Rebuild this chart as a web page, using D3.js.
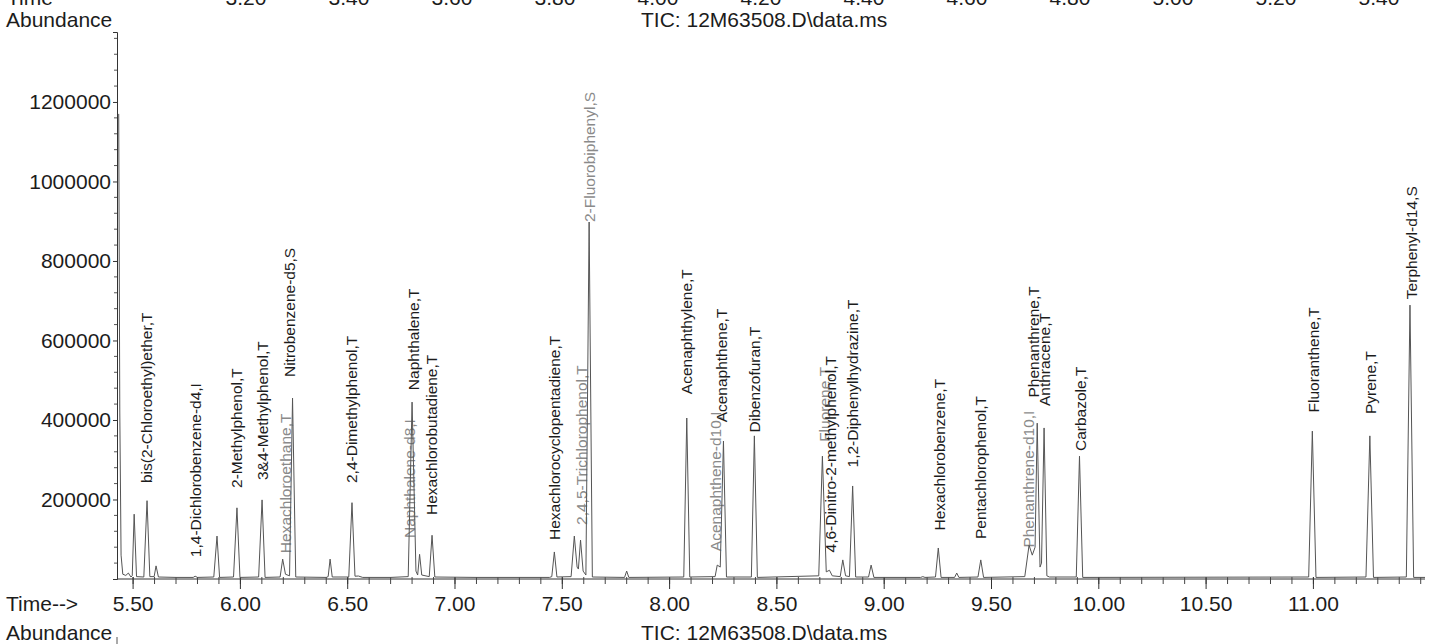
<!DOCTYPE html>
<html>
<head>
<meta charset="utf-8">
<script src="https://cdn.jsdelivr.net/npm/d3@7"></script>
<style>
  html, body { margin: 0; padding: 0; background: #fff; }
  svg { display: block; }
  text { font-family: "Liberation Sans", Arial, sans-serif; fill: #1c1c1c; }
</style>
</head>
<body>
<svg id="chart" width="1429" height="644"></svg>
<script>
// Total ion chromatogram, file 12M63508.D\data.ms
const fileTitle = "TIC: 12M63508.D\\data.ms";

// x axis tick labels (retention time, min)
const timeTicks = [5.5, 6.0, 6.5, 7.0, 7.5, 8.0, 8.5, 9.0, 9.5, 10.0, 10.5, 11.0];
// y axis tick labels (abundance)
const abundanceTicks = [200000, 400000, 600000, 800000, 1000000, 1200000];
// tick labels of the preceding panel, cut by the page edge
const prevPanelTicks = ["3.20", "3.40", "3.60", "3.80", "4.00", "4.20", "4.40", "4.60", "4.80", "5.00", "5.20", "5.40"];

// detector trace: [retention time, abundance]
const trace = [
  [5.433, 1170000], [5.438, 420000], [5.444, 60000], [5.452, 12000], [5.466, 9000],
  [5.478, 15000], [5.490, 5000],
  [5.496, 8000], [5.505, 163000], [5.516, 6000],
  [5.550, 5000], [5.565, 197000], [5.578, 6000],
  [5.598, 6000], [5.607, 33000], [5.618, 5000],
  [5.700, 4000], [5.780, 4000], [5.789, 7000], [5.800, 4000],
  [5.876, 5000], [5.891, 108000], [5.903, 4000],
  [5.968, 5000], [5.984, 179000], [5.998, 4000],
  [6.085, 5000], [6.101, 199000], [6.115, 4000],
  [6.185, 5000], [6.197, 50000], [6.210, 12000],
  [6.229, 8000], [6.243, 455000], [6.258, 5000],
  [6.400, 4000], [6.409, 6000], [6.418, 50000], [6.428, 5000],
  [6.505, 5000], [6.520, 192000], [6.534, 7000], [6.550, 7500], [6.570, 4000],
  [6.700, 4000], [6.782, 6000], [6.800, 445000], [6.818, 20000], [6.826, 10000], [6.835, 62000], [6.845, 10000],
  [6.880, 6000], [6.893, 110000], [6.906, 5000],
  [7.100, 4000], [7.440, 4000], [7.451, 6000], [7.463, 68000], [7.475, 5000],
  [7.541, 6000], [7.556, 108000], [7.569, 30000], [7.575, 25000], [7.585, 98000], [7.597, 20000], [7.610, 10000],
  [7.625, 898000], [7.640, 5000],
  [7.790, 4000], [7.800, 20000], [7.810, 4000],
  [8.066, 5000], [8.080, 405000], [8.094, 5000],
  [8.212, 6000], [8.222, 35000], [8.236, 30000], [8.251, 347000], [8.265, 5000],
  [8.381, 5000], [8.395, 360000], [8.409, 4000],
  [8.695, 8000], [8.712, 309000], [8.730, 18000], [8.745, 22000], [8.758, 8000],
  [8.795, 6000], [8.807, 48000], [8.820, 8000],
  [8.838, 6000], [8.853, 234000], [8.867, 5000],
  [8.927, 5000], [8.939, 35000], [8.952, 4000],
  [9.170, 4000], [9.180, 6000], [9.190, 4000],
  [9.239, 5000], [9.252, 78000], [9.265, 4000],
  [9.328, 4000], [9.338, 15000], [9.348, 4000],
  [9.437, 5000], [9.450, 48000], [9.463, 4000],
  [9.655, 6000], [9.675, 85000], [9.690, 60000], [9.703, 80000], [9.713, 392000], [9.726, 30000],
  [9.733, 40000], [9.745, 380000], [9.758, 8000], [9.770, 5000],
  [9.895, 5000], [9.910, 309000], [9.925, 4000],
  [10.978, 5000], [10.995, 372000], [11.012, 4000],
  [11.245, 5000], [11.263, 360000], [11.280, 4000],
  [11.433, 5000], [11.450, 689000], [11.467, 4000], [11.520, 4000]
];

// peak annotations: compound, retention time, abundance at the foot of the label
const peakNames = [
  "bis(2-Chloroethyl)ether,T", "1,4-Dichlorobenzene-d4,I", "2-Methylphenol,T", "3&4-Methylphenol,T",
  "Hexachloroethane,T", "Nitrobenzene-d5,S", "2,4-Dimethylphenol,T", "Naphthalene-d8,I",
  "Naphthalene,T", "Hexachlorobutadiene,T", "Hexachlorocyclopentadiene,T", "2,4,5-Trichlorophenol,T",
  "2-Fluorobiphenyl,S", "Acenaphthylene,T", "Acenaphthene-d10,I", "Acenaphthene,T",
  "Dibenzofuran,T", "Fluorene,T", "4,6-Dinitro-2-methylphenol,T", "1,2-Diphenylhydrazine,T",
  "Hexachlorobenzene,T", "Pentachlorophenol,T", "Phenanthrene-d10,I", "Phenanthrene,T",
  "Anthracene,T", "Carbazole,T", "Fluoranthene,T", "Pyrene,T", "Terphenyl-d14,S"
];
const peakTimes = [
  5.565, 5.789, 5.984, 6.101,
  6.210, 6.228, 6.520, 6.790,
  6.806, 6.892, 7.466, 7.592,
  7.625, 8.077, 8.212, 8.243,
  8.395, 8.720, 8.751, 8.854,
  9.257, 9.450, 9.672, 9.695,
  9.745, 9.913, 11.000, 11.265, 11.458
];
const labelAbundance = [
  241500, 55000, 229000, 249000,
  65000, 508000, 241500, 103000,
  475000, 161000, 98000, 136000,
  898000, 465000, 70000, 394000,
  368600, 345000, 66700, 280500,
  122000, 100600, 79000, 456600,
  435000, 322000, 419000, 415000, 704000
];
// labels crossed by a neighbouring trace are printed lighter
const overprinted = [
  "Hexachloroethane,T", "Naphthalene-d8,I", "2,4,5-Trichlorophenol,T", "2-Fluorobiphenyl,S",
  "Acenaphthene-d10,I", "Fluorene,T", "Phenanthrene-d10,I"
];

const svg = d3.select("#chart");
const x = d3.scaleLinear().domain([5.425, 11.52]).range([117, 1425]);
const y = d3.scaleLinear().domain([0, 1376000]).range([579, 32]);
const axisFont = 21;

// cut-off tick row of the panel above
svg.append("g").selectAll("text").data(prevPanelTicks).join("text")
  .attr("x", (d, i) => 246 + i * 103)
  .attr("y", 5)
  .attr("text-anchor", "middle")
  .attr("font-size", axisFont)
  .text(d => d);
svg.append("text").attr("x", 7).attr("y", 5).attr("font-size", axisFont).text("Time");

// headers
svg.append("text").attr("x", 6).attr("y", 27).attr("font-size", axisFont).text("Abundance");
svg.append("text").attr("x", 641).attr("y", 27).attr("font-size", axisFont).text(fileTitle);

// y axis
const yAxis = d3.axisLeft(y).tickValues(abundanceTicks).tickSize(4).tickPadding(2)
  .tickFormat(d3.format("d"));
const gy = svg.append("g").attr("transform", `translate(${x.range()[0]},0)`).call(yAxis);
gy.select(".domain").attr("stroke", "#333");
gy.selectAll(".tick line").attr("stroke", "#333");
gy.selectAll(".tick text").attr("font-size", axisFont).attr("font-family", "Liberation Sans, Arial, sans-serif").attr("fill", "#1c1c1c");
const yMinor = d3.range(40000, 1376000, 40000).filter(v => v % 200000 !== 0);
svg.append("g").selectAll("line").data(yMinor).join("line")
  .attr("x1", 114).attr("x2", 117)
  .attr("y1", d => y(d)).attr("y2", d => y(d))
  .attr("stroke", "#555");

// x axis
const gx = svg.append("g").attr("transform", `translate(0,${y(0)})`);
gx.append("line").attr("x1", x.range()[0]).attr("x2", x.range()[1]).attr("y1", 0).attr("y2", 0).attr("stroke", "#333");
const xMinor = d3.range(5.5, 11.55, 0.1).map(v => Math.round(v * 10) / 10);
gx.selectAll("line.minor").data(xMinor).join("line").attr("class", "minor")
  .attr("x1", d => x(d)).attr("x2", d => x(d))
  .attr("y1", -2).attr("y2", 5).attr("stroke", "#444");
gx.selectAll("line.major").data(timeTicks).join("line").attr("class", "major")
  .attr("x1", d => x(d)).attr("x2", d => x(d))
  .attr("y1", -2).attr("y2", 10).attr("stroke", "#333");
gx.selectAll("text").data(timeTicks).join("text")
  .attr("x", d => x(d)).attr("y", 32)
  .attr("text-anchor", "middle").attr("font-size", axisFont)
  .text(d => d3.format(".2f")(d));
svg.append("text").attr("x", 6).attr("y", y(0) + 32).attr("font-size", axisFont).text("Time-->");

// footer
svg.append("text").attr("x", 6).attr("y", 640).attr("font-size", axisFont).text("Abundance");
svg.append("text").attr("x", 641).attr("y", 640).attr("font-size", axisFont).text(fileTitle);
svg.append("line").attr("x1", 117).attr("x2", 117).attr("y1", 637).attr("y2", 644).attr("stroke", "#555");

// peak labels
svg.append("g").selectAll("text").data(peakNames).join("text")
  .attr("transform", (d, i) => `translate(${x(peakTimes[i])},${y(labelAbundance[i])}) rotate(-90)`)
  .attr("dy", "0.35em")
  .attr("font-size", 15.5)
  .style("fill", d => overprinted.includes(d) ? "#8a8a8a" : "#1c1c1c")
  .text(d => d);

// trace
const line = d3.line().x(d => x(d[0])).y(d => y(d[1]));
svg.append("path").datum(trace)
  .attr("d", line)
  .attr("fill", "none")
  .attr("stroke", "#555")
  .attr("stroke-width", 1)
  .attr("stroke-linejoin", "round");
</script>
</body>
</html>
